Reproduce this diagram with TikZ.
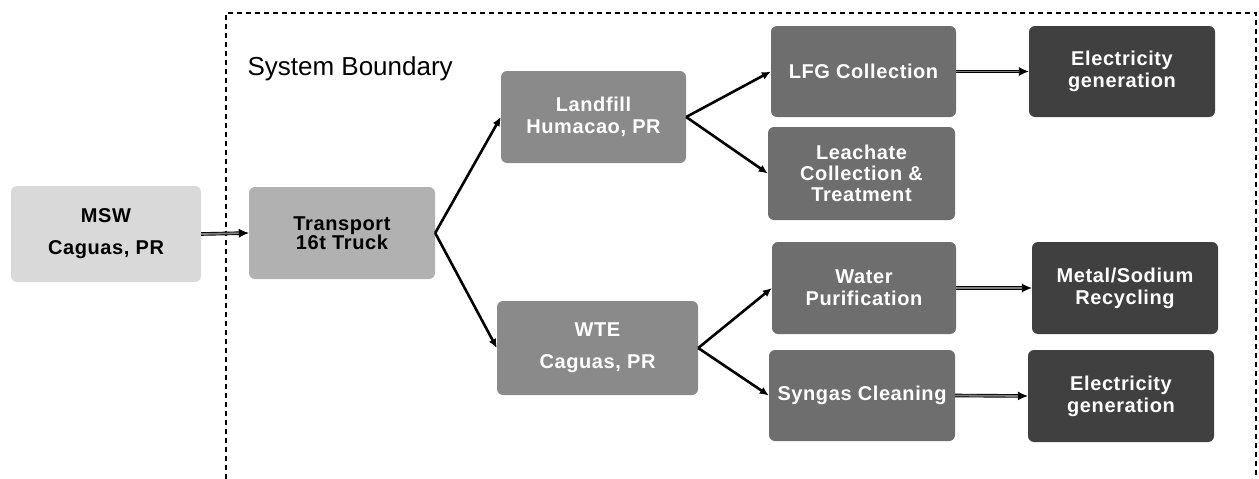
\documentclass[tikz,border=0pt]{standalone}
\usepackage{fontspec}
\setmainfont{Liberation Sans}[LetterSpace=3]
\usetikzlibrary{arrows.meta}

\definecolor{lightbox}{HTML}{D9D9D9}
\definecolor{truckbox}{HTML}{B1B1B1}
\definecolor{sitebox}{HTML}{8A8A8A}
\definecolor{procbox}{HTML}{6E6E6E}
\definecolor{endbox}{HTML}{404040}

\tikzset{
  box/.style={rounded corners=6pt, minimum width=186pt, minimum height=92pt,
    inner sep=0pt, align=center, text=white,
    font=\fontsize{20}{22}\selectfont\bfseries},
  branch/.style={-{Latex[length=9pt,width=8pt]}, line width=2.6pt},
  feed/.style={-{Latex[length=10pt,width=9pt]}, line width=0.9pt,
    double=gray, double distance=1.8pt},
}

\begin{document}
\begin{tikzpicture}[x=1pt,y=-1pt]
    \useasboundingbox (0,0) rectangle (1259,479);

    % system boundary
    \draw[line width=1.4pt, dash pattern=on 5pt off 4pt]
      (226,479) -- (226,13) -- (1256,13) -- (1256,479);
    \node[anchor=base west, font=\fontsize{26}{28}\selectfont\addfontfeature{LetterSpace=0}] (sysb) at (244,75) {System Boundary};

    \node[box, fill=lightbox, text=black, minimum width=190pt, minimum height=96pt] (msw) at (106,234) {MSW\\[10pt]Caguas, PR};
    \node[box, fill=truckbox, text=black] (truck) at (342,233) {Transport\\[-2.5pt]16t Truck};

    \node[box, fill=sitebox, minimum width=185pt] (landfill) at (593.5,117) {Landfill\\Humacao, PR};
    \node[box, fill=sitebox, minimum width=201pt, minimum height=94pt] (wte) at (597.5,348) {WTE\\[10pt]Caguas, PR};

    \node[box, fill=procbox, minimum width=185pt, minimum height=91pt] (lfg) at (863.5,71.5) {LFG Collection};
    \node[box, fill=procbox, minimum width=187pt, minimum height=93pt] (leach) at (861.5,173.5) {Leachate\\[-1pt]Collection \&\\[-1pt]Treatment};
    \node[box, fill=procbox, minimum width=184pt] (water) at (864,288) {Water\\Purification};
    \node[box, fill=procbox, minimum height=91pt] (syngas) at (862,395.5) {Syngas Cleaning};

    \node[box, fill=endbox, minimum height=91pt] (elec) at (1122,71.5) {Electricity\\generation};
    \node[box, fill=endbox] (metal) at (1125,288) {Metal/Sodium\\Recycling};
    \node[box, fill=endbox] (elecb) at (1121,396) {Electricity\\generation};

    \draw[feed] (msw.east) -- (truck.west);
    \draw[branch] (truck.east) -- (landfill.west);
    \draw[branch] (truck.east) -- (wte.west);
    \draw[branch] (landfill.east) -- (lfg.west);
    \draw[branch] (landfill.east) -- (leach.west);
    \draw[branch] (wte.east) -- (water.west);
    \draw[branch] (wte.east) -- (syngas.west);
    \draw[feed] (lfg.east) -- (elec.west);
    \draw[feed] (water.east) -- (metal.west);
    \draw[feed] (syngas.east) -- (elecb.west);
  \end{tikzpicture}
\end{document}
